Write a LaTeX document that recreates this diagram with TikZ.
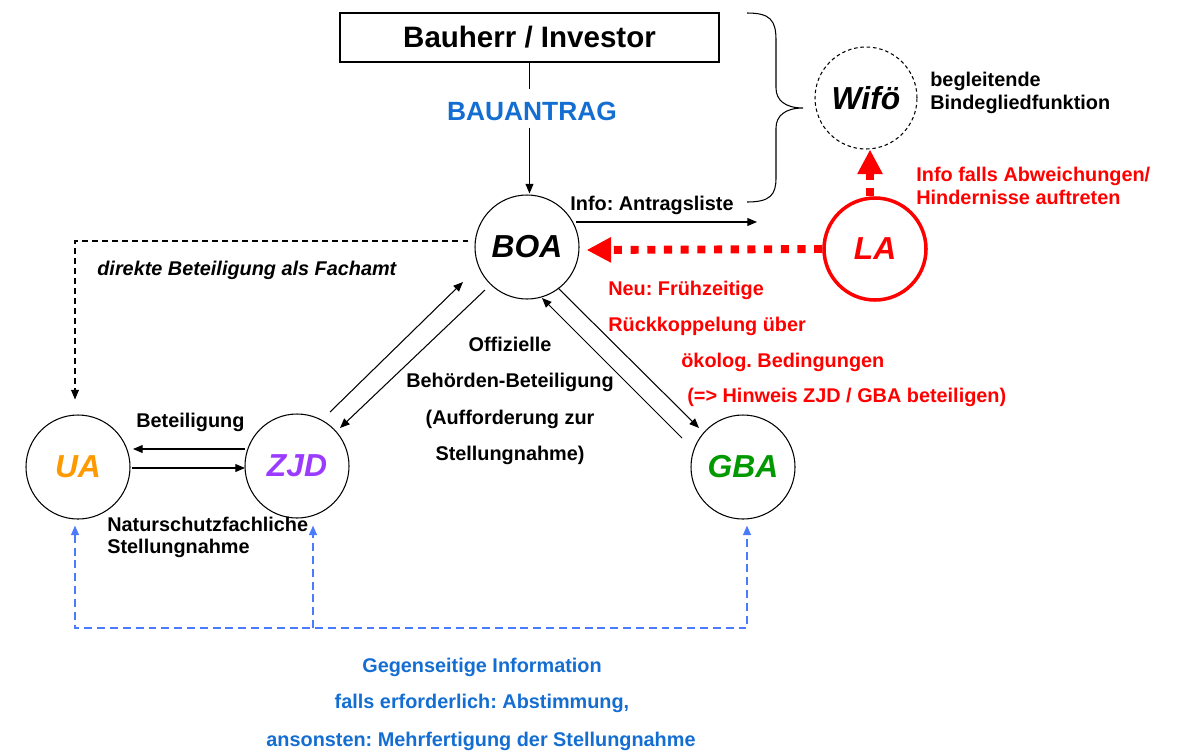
\documentclass[tikz,border=0pt]{standalone}
\usepackage{fontspec}
\setmainfont{Liberation Sans}
\usetikzlibrary{arrows.meta,calc}
\definecolor{cblue}{RGB}{20,110,210}
\definecolor{lblue}{RGB}{74,123,255}
\definecolor{corange}{RGB}{255,153,0}
\definecolor{cpurple}{RGB}{155,59,255}
\definecolor{cgreen}{RGB}{0,153,0}
\definecolor{cred}{RGB}{255,0,0}
\newlength{\pxu}\setlength{\pxu}{0.02cm}
\frenchspacing
\begin{document}
\begin{tikzpicture}[x=0.02cm,y=-0.02cm,
  lbl/.style={font=\fontsize{11.3}{13}\selectfont\bfseries, inner sep=0pt},
  circ/.style={circle, draw, line width=0.6pt, minimum size=104\pxu, inner sep=0pt,
    font=\fontsize{18.1}{20}\selectfont\bfseries\itshape},
  arr/.style={-{Triangle[length=5.5pt,width=4.5pt]}, line width=0.6pt},
  bdash/.style={dash pattern=on 3.4pt off 2.3pt},
  bluearr/.style={lblue, line width=0.9pt, dash pattern=on 4.5pt off 2.8pt},
  bluetip/.style={-{Triangle[length=5.5pt,width=4.5pt]}},
  redarr/.style={cred, line width=4.5pt, dash pattern=on 4.6pt off 4.9pt,
    -{Triangle[length=14pt,width=13.6pt]}}
]
\useasboundingbox (0,0) rectangle (1182,754);

% box
\node[draw, line width=0.6pt, minimum width=379\pxu, minimum height=49\pxu, inner sep=0pt,
  font=\fontsize{16.8}{19}\selectfont\bfseries] (Bau) at (529.5,37.5) {Bauherr / Investor};
\node[font=\fontsize{15}{17}\selectfont\bfseries, text=cblue, inner sep=0pt, anchor=base] (BA) at (532,120) {BAUANTRAG};

% circles
\node[circ] (BOA) at (527,247) {BOA};
\node[circ, text=corange] (UA) at (78,467) {UA};
\node[circ, text=cpurple] (ZJD) at (297,466) {ZJD};
\node[circ, text=cgreen] (GBA) at (743,467) {GBA};
\node[circ, draw=cred, text=cred, line width=2pt, minimum size=102\pxu] (LA) at (875,249) {LA};
\node[circ, dash pattern=on 2pt off 1.6pt, minimum size=102\pxu] (Wifo) at (866,98) {Wifö};

% brace
\draw[line width=0.6pt] (747,13) .. controls (770,13) and (776,20) .. (776,40) -- (776,88)
  .. controls (776,100) and (785,108) .. (803,108)
  .. controls (785,108) and (776,116) .. (776,128) -- (776,178)
  .. controls (776,195) and (770,202) .. (747,202);

% Bauantrag line
\draw[line width=0.6pt] (Bau.south) -- ($(Bau.south)+(0,26)$);
\draw[arr] ($(Bau.south)+(0,65)$) -- ($(Bau.south)+(0,131)$);

% info arrow
\coordinate (infoend) at (757,222);
\draw[arr] ($(BOA)+(49,-25)$) -- (infoend);
\node[lbl, anchor=base west] (infotxt) at (570,210) {Info: Antragsliste};

% red arrows
\draw[redarr] (LA.west) -- ($(BOA.east)+(7,3)$);
\draw[redarr] ($(LA.north)+(-5,0)$) -- ($(Wifo.south)+(4,0)$);

% dashed black to UA
\draw[arr, bdash] ($(BOA.west)+(-6,-6)$) -| ($(UA.north)+(-3,-15)$);
\node[lbl, font=\fontsize{11.3}{13}\selectfont\bfseries\itshape, anchor=base west] (direkt) at (97,275) {direkte Beteiligung als Fachamt};

% ZJD - BOA
\draw[arr] ($(ZJD)+(33,-54)$) -- ($(BOA)+(-64,35)$);
\draw[arr] ($(BOA)+(-42,43)$) -- ($(ZJD)+(43,-38)$);
% BOA - GBA
\draw[arr] ($(BOA)+(31,41)$) -- ($(GBA)+(-44,-39)$);
\draw[arr] ($(GBA)+(-61,-29)$) -- ($(BOA)+(15,51)$);
% UA - ZJD
\draw[arr] ($(ZJD)+(-52,-17)$) -- ($(UA)+(55,-18)$);
\draw[arr] ($(UA)+(54,1)$) -- ($(ZJD)+(-52,2)$);

% labels
\node[lbl, anchor=base west] (betl) at (136,427) {Beteiligung};
\node[lbl, anchor=base west] (nat1) at (107,531) {Naturschutzfachliche};
\node[lbl, anchor=base west] (nat2) at (107,553) {Stellungnahme};

\node[lbl, anchor=base] (off1) at (510,351) {Offizielle};
\node[lbl, anchor=base] (off2) at (510,387) {Behörden-Beteiligung};
\node[lbl, anchor=base] (off3) at (510,424) {(Aufforderung zur};
\node[lbl, anchor=base] (off4) at (510,460) {Stellungnahme)};

\node[lbl, text=cred, anchor=base west] (neu1) at (608,295) {Neu: Frühzeitige};
\node[lbl, text=cred, anchor=base west] (neu2) at (608,331) {Rückkoppelung über};
\node[lbl, text=cred, anchor=base west] (neu3) at (681,367) {ökolog. Bedingungen};
\node[lbl, text=cred, anchor=base west] (neu4) at (687,402) {(=> Hinweis ZJD / GBA beteiligen)};

\node[lbl, anchor=base west] (beg1) at (930,86) {begleitende};
\node[lbl, anchor=base west] (beg2) at (930,109) {Bindegliedfunktion};

\node[lbl, text=cred, anchor=base west] (inf1) at (916,181) {Info falls Abweichungen/};
\node[lbl, text=cred, anchor=base west] (inf2) at (916,204) {Hindernisse auftreten};

% blue dashed
\coordinate (b1) at (75,628);
\coordinate (b2) at (313,628);
\coordinate (b3) at (747,628);
\draw[bluearr, {Triangle[length=5.5pt,width=4.5pt]}-{Triangle[length=5.5pt,width=4.5pt]}]
  ($(UA.south)+(-3,6)$) -- (b1) -- (b3) -- ($(GBA.south)+(4,6)$);
\draw[bluearr, bluetip] (b2) -- ($(ZJD.south)+(16,7)$);

\node[lbl, text=cblue, anchor=base] (g1) at (482,672) {Gegenseitige Information};
\node[lbl, text=cblue, anchor=base] (g2) at (482,708) {falls erforderlich: Abstimmung,};
\node[lbl, text=cblue, anchor=base] (g3) at (481,746) {ansonsten: Mehrfertigung der Stellungnahme};
\end{tikzpicture}
\end{document}
